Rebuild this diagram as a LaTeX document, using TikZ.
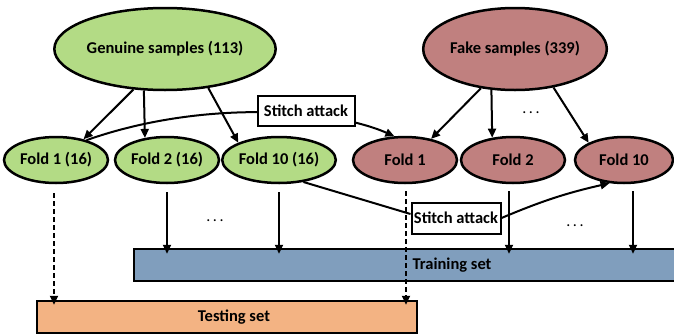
\documentclass[tikz,border=0pt]{standalone}
\usepackage{fontspec}
\setmainfont{Carlito}
\usetikzlibrary{shapes.geometric, arrows.meta}

\definecolor{genuine}{RGB}{179,219,133}
\definecolor{fake}{RGB}{192,128,127}
\definecolor{trainblue}{RGB}{128,158,189}
\definecolor{testorange}{RGB}{243,179,131}

\begin{document}
\begin{tikzpicture}[x=1pt, y=-1pt, line width=2pt,
    every node/.style={font=\fontsize{16.5}{19}\selectfont\bfseries},
    sampleset/.style={ellipse, draw, line width=2.5pt, minimum width=176pt, minimum height=82pt, inner sep=0pt},
    fold/.style={ellipse, draw, line width=2.5pt, minimum width=104pt, minimum height=46pt, inner sep=0pt},
    attack/.style={draw, fill=white, minimum height=30pt, inner xsep=2pt},
    dataset/.style={draw, line width=2.5pt, minimum height=32pt, inner sep=0pt},
    arr/.style={-{Triangle[length=9pt, width=8pt]}},
    dots/.style={font=\fontsize{16}{19}\selectfont\mdseries},
]
    \useasboundingbox (0,0) rectangle (674,335);

    % the two sample sets
    \node[sampleset, fill=genuine] (gen) at (165,49) {Genuine samples (113)};
    \node[sampleset, fill=fake] (fak) at (515,49) {Fake samples (339)};

    % folds
    \node[fold, fill=genuine] (g1) at (56,160) {Fold 1 (16)};
    \node[fold, fill=genuine] (g2) at (167,160) {Fold 2 (16)};
    \node[fold, fill=genuine] (g10) at (279,160) {Fold 10 (16)};
    \node[fold, fill=fake] (f1) at (405,160) {Fold 1};
    \node[fold, fill=fake] (f2) at (513,160) {Fold 2};
    \node[fold, fill=fake, minimum width=98pt] (f10) at (624,160) {Fold 10};

    % splitting into folds
    \draw[arr] (gen.-128) -- (g1.37);
    \draw[arr] (gen.-117) -- (g2.135);
    \draw[arr] (gen.-42) -- (g10.157);
    \draw[arr] (fak.-131) -- (f1.39);
    \draw[arr] (fak.-120) -- (f2.133);
    \draw[arr] (fak.-45) -- (f10.154);
    \node[dots] (topdots) at (531,113) {.\,.\,.};

    % stitch attacks
    \draw[arr] (g1.33) .. controls (200,100) and (330,108) .. (f1.114);
    \node[attack, minimum width=97pt] (st1) at (306,111) {Stitch attack};
    \node[attack, minimum width=89pt, minimum height=31pt] (st2) at (456,218) {Stitch attack};
    \draw (g10.-42) -- ([yshift=4pt]st2.west);
    \draw[arr] (st2.east) to[bend left=5] (f10.-122);

    % training and testing sets
    \node[dataset, fill=trainblue, minimum width=636pt] (train) at (452,265) {Training set};
    \node[dataset, fill=testorange, minimum width=380pt] (test) at (227,317) {\hspace{14pt}Testing set};

    \draw[arr] ([yshift=-8pt]g2.south) -- ([shift={(0,-6pt)}]g2.south |- train.north);
    \draw[arr] ([yshift=-8pt]g10.south) -- ([shift={(0,-6pt)}]g10.south |- train.north);
    \draw[arr] ([xshift=-4pt, yshift=-7pt]f2.south) -- ([shift={(-4pt,-6pt)}]f2.south |- train.north);
    \draw[arr] ([xshift=9pt, yshift=-7pt]f10.south) -- ([shift={(9pt,-6pt)}]f10.south |- train.north);
    \node[dots] (leftdots) at (215,221) {.\,.\,.};
    \node[dots] (rightdots) at (575,226) {.\,.\,.};

    \draw[arr, dash pattern=on 5pt off 3pt] ([xshift=-2pt, yshift=-9pt]g1.south) -- ([shift={(-2pt,-5pt)}]g1.south |- test.north);
    \draw[arr, dash pattern=on 5pt off 3pt] ([xshift=1pt, yshift=-7pt]f1.south) -- ([shift={(1pt,-5pt)}]f1.south |- test.north);
\end{tikzpicture}
\end{document}
